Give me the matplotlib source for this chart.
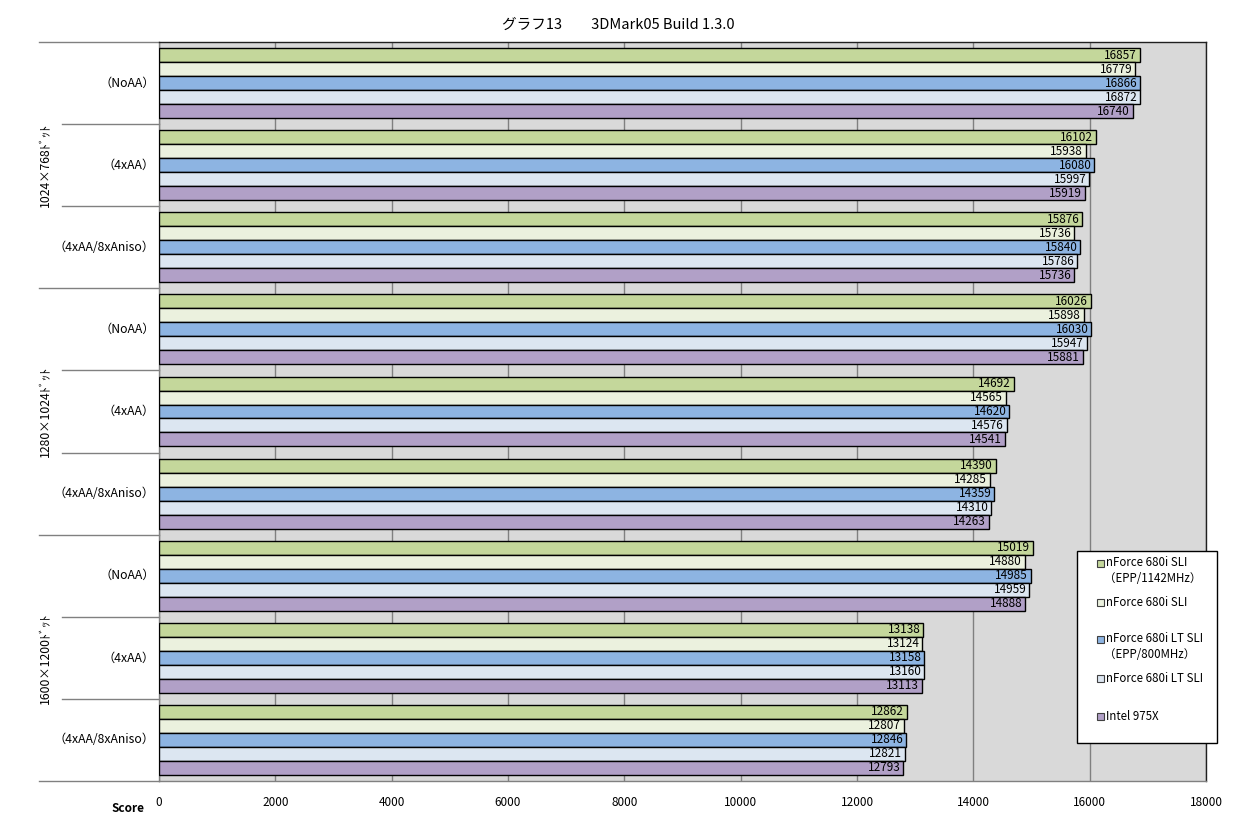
import matplotlib
matplotlib.use("Agg")
import matplotlib.pyplot as plt
import matplotlib.transforms as mtransforms
from matplotlib.patches import Rectangle
import numpy as np

plt.rcParams['font.family'] = ['Noto Sans CJK JP', 'DejaVu Sans']

title = "グラフ13　　3DMark05 Build 1.3.0"
resolutions = ["1024×768ﾄﾞｯﾄ", "1280×1024ﾄﾞｯﾄ", "1600×1200ﾄﾞｯﾄ"]
settings = ["（NoAA）", "（4xAA）", "（4xAA/8xAniso）"]
series_names = ["nForce 680i SLI\n（EPP/1142MHz）", "nForce 680i SLI",
                "nForce 680i LT SLI\n（EPP/800MHz）", "nForce 680i LT SLI", "Intel 975X"]
colors = ["#c4d79b", "#ebf1de", "#8db4e2", "#dce6f1", "#b1a0c7"]

# values per group (top to bottom), per series
nf680_epp = [16857, 16102, 15876, 16026, 14692, 14390, 15019, 13138, 12862]
nf680 = [16779, 15938, 15736, 15898, 14565, 14285, 14880, 13124, 12807]
nf680lt_epp = [16866, 16080, 15840, 16030, 14620, 14359, 14985, 13158, 12846]
nf680lt = [16872, 15997, 15786, 15947, 14576, 14310, 14959, 13160, 12821]
i975x = [16740, 15919, 15736, 15881, 14541, 14263, 14888, 13113, 12793]
series = [nf680_epp, nf680, nf680lt_epp, nf680lt, i975x]
xticks = [0, 2000, 4000, 6000, 8000, 10000, 12000, 14000, 16000, 18000]

W, H = 1239, 824
fig = plt.figure(figsize=(W / 100, H / 100), dpi=100)
L, R, T, B = 159, 1206, 42, 781
ax = fig.add_axes([L / W, 1 - B / H, (R - L) / W, (B - T) / H])
ax.set_facecolor("#d9d9d9")

ngroups = len(nf680_epp)
bw = 0.1705
gap = (1 - 5 * bw) / 2
for k, vals in enumerate(series):
    ys = [g - 0.5 + gap + (k + 0.5) * bw for g in range(ngroups)]
    ax.barh(ys, vals, height=bw, color=colors[k], edgecolor="black",
            linewidth=1.0, zorder=3)
    for y, v in zip(ys, vals):
        ax.text(v - 50, y, f"{v}", ha="right", va="center", fontsize=8.5,
                zorder=4)

ax.set_ylim(ngroups - 0.5, -0.5)
ax.set_xlim(0, 18000)
ax.set_xticks(xticks)
ax.set_xticklabels([str(t) for t in xticks], fontsize=8.5)
ax.tick_params(axis="x", length=0, pad=11)
ax.set_yticks([])
ax.grid(axis="x", color="#808080", linewidth=1.0, zorder=1)
ax.set_axisbelow(True)
for s in ["left", "bottom"]:
    ax.spines[s].set_color("#808080")
    ax.spines[s].set_linewidth(1.0)
for s in ["top", "right"]:
    ax.spines[s].set_color("#202020")
    ax.spines[s].set_linewidth(1.0)

# hierarchical category axis
axw = R - L
blend = mtransforms.blended_transform_factory(ax.transAxes, ax.transData)
x_short = (62 - L) / axw
x_long = (39 - L) / axw
for g in range(ngroups + 1):
    y = g - 0.5
    x0 = x_long if g % 3 == 0 else x_short
    ax.plot([x0, 0], [y, y], color="#808080", linewidth=1.0,
            transform=blend, clip_on=False)
for g in range(ngroups):
    ax.text((155 - L) / axw, g, settings[g % 3], ha="right", va="center",
            fontsize=8.8, transform=blend)
for i, r in enumerate(resolutions):
    ax.text((46 - L) / axw, 3 * i + 1, r, ha="center", va="center",
            rotation=90, fontsize=8.8, transform=blend)

fig.text(128 / W, 1 - 808 / H, "Score", ha="center", va="center",
         fontsize=8.5, fontweight="bold")
fig.text(618 / W, 1 - 25 / H, title, ha="center", va="center", fontsize=10.5)

# legend (manual)
lx0, ly0, lx1, ly1 = 1077, 551, 1217, 743
fig.patches.append(Rectangle((lx0 / W, 1 - ly1 / H), (lx1 - lx0) / W,
                             (ly1 - ly0) / H, transform=fig.transFigure,
                             facecolor="white", edgecolor="black",
                             linewidth=1.0, zorder=10))
entry_y = [563, 602, 639, 678, 716]
for k in range(5):
    yc = entry_y[k]
    fig.patches.append(Rectangle((1097 / W, 1 - (yc + 4) / H), 7 / W, 7 / H,
                                 transform=fig.transFigure,
                                 facecolor=colors[k], edgecolor="#404040",
                                 linewidth=0.8, zorder=11))
    lines = series_names[k].split("\n")
    fig.text(1106 / W, 1 - yc / H, lines[0], ha="left", va="center",
             fontsize=8.3, zorder=12)
    if len(lines) > 1:
        fig.text(1104 / W, 1 - (yc + 15) / H, lines[1], ha="left",
                 va="center", fontsize=8.3, zorder=12)

fig.savefig("out.png", dpi=100)
